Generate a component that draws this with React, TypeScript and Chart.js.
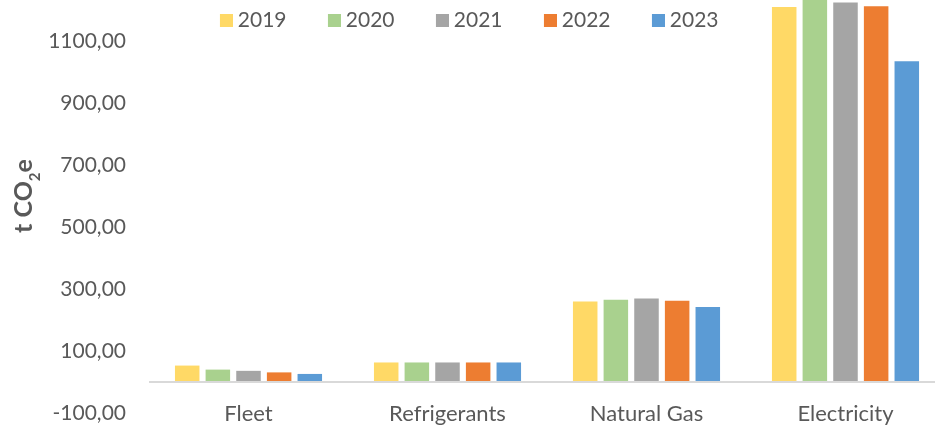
import React, { useEffect, useRef } from 'react';
import { Chart, registerables } from 'chart.js';

Chart.register(...registerables);

// ---- data ----
const categories = ['Fleet', 'Refrigerants', 'Natural Gas', 'Electricity'];
const seriesLabels = ['2019', '2020', '2021', '2022', '2023'];
const values2019 = [53, 63, 260, 1210];
const values2020 = [40, 63, 265, 1250];
const values2021 = [36, 63, 269, 1224];
const values2022 = [31, 63, 262, 1212];
const values2023 = [26, 63, 242, 1035];
const seriesValues = [values2019, values2020, values2021, values2022, values2023];
const yTickValues = [-100, 0, 100, 300, 500, 700, 900, 1100];
const yMin = -100;
const yMax = 1100;
const yTitleMain = 't CO';
const yTitleSub = '2';
const yTitleEnd = 'e';

// ---- style ----
const seriesColors = ['#FFD966', '#A9D18E', '#A5A5A5', '#ED7D31', '#5B9BD5'];
const FONT = 'Lato';
const TEXT = '#595959';
const FONT_SIZE = 21;
const CAT_FONT_SIZE = 22;
const PAGE_W = 935;
const PAGE_H = 426;
const PLOT_LEFT = 149;
const PLOT_RIGHT = 945;
const LEGEND_FIRST_TEXT = 238;
const LEGEND_PITCH = 108;
const LEGEND_PAD = 10;
const SWATCH = 13;
const SWATCH_GAP = 5;
const TITLE_X = 23;
const TITLE_CENTER_VALUE = 600;
const TITLE_SIZE = 25;
const SUB_SIZE = 15;
const SUB_DROP = 8;

const fmt = (v: number) => v.toFixed(2).replace('.', ',');

export default function App() {
  const ref = useRef<HTMLCanvasElement>(null);

  useEffect(() => {
    const canvas = ref.current as HTMLCanvasElement;
    const mctx = canvas.getContext('2d') as CanvasRenderingContext2D;
    mctx.font = `${FONT_SIZE}px ${FONT}`;
    const textW =
      seriesLabels.reduce((a, s) => a + mctx.measureText(s).width, 0) / seriesLabels.length;
    const half = FONT_SIZE / 2;
    const BW = LEGEND_PITCH - LEGEND_PAD - half - textW;
    const L = seriesLabels.length * LEGEND_PITCH;
    const Wc = Math.round(2 * (PLOT_RIGHT + (LEGEND_PAD - L) / 2 + BW + half - LEGEND_FIRST_TEXT));
    const o = PLOT_RIGHT - Wc;
    canvas.width = Wc;
    canvas.height = PAGE_H;
    canvas.style.left = o + 'px';
    canvas.style.width = Wc + 'px';
    canvas.style.height = PAGE_H + 'px';

    const imgW = Math.round(BW + 2 * (half - SWATCH_GAP));
    const swatches = seriesColors.map((c) => {
      const s = document.createElement('canvas');
      s.width = imgW;
      s.height = SWATCH;
      const sc = s.getContext('2d') as CanvasRenderingContext2D;
      sc.fillStyle = c;
      sc.fillRect(imgW - SWATCH, 0, SWATCH, SWATCH);
      return s;
    });

    const titlePlugin = {
      id: 'yTitleSub',
      afterDraw(chart: any) {
        const ctx = chart.ctx as CanvasRenderingContext2D;
        const ys = chart.scales.y;
        const cy = ys.getPixelForValue(TITLE_CENTER_VALUE);
        ctx.save();
        ctx.translate(TITLE_X - o, cy);
        ctx.rotate(-Math.PI / 2);
        ctx.fillStyle = TEXT;
        ctx.textBaseline = 'alphabetic';
        ctx.textAlign = 'left';
        const mainFont = `bold ${TITLE_SIZE}px ${FONT}`;
        const subFont = `bold ${SUB_SIZE}px ${FONT}`;
        ctx.font = mainFont;
        const w1 = ctx.measureText(yTitleMain).width;
        const w3 = ctx.measureText(yTitleEnd).width;
        ctx.font = subFont;
        const w2 = ctx.measureText(yTitleSub).width;
        let x = -(w1 + w2 + w3) / 2;
        const base = TITLE_SIZE * 0.36;
        ctx.font = mainFont;
        ctx.fillText(yTitleMain, x, base);
        x += w1;
        ctx.font = subFont;
        ctx.fillText(yTitleSub, x, base + SUB_DROP);
        x += w2;
        ctx.font = mainFont;
        ctx.fillText(yTitleEnd, x, base);
        ctx.restore();
      },
    };

    Chart.defaults.font.family = FONT;

    const chart = new Chart(canvas, {
      type: 'bar',
      data: {
        labels: categories,
        datasets: seriesLabels.map((label, i) => ({
          label,
          data: seriesValues[i],
          backgroundColor: seriesColors[i],
          borderWidth: 0,
          categoryPercentage: 0.77,
          barPercentage: 0.8,
          clip: false as any,
        })),
      },
      options: {
        responsive: false,
        animation: false,
        layout: { padding: 0 },
        plugins: {
          tooltip: { enabled: false },
          legend: {
            position: 'top',
            align: 'center',
            labels: {
              usePointStyle: true,
              pointStyleWidth: BW,
              boxHeight: SWATCH,
              padding: LEGEND_PAD,
              color: TEXT,
              font: { family: FONT, size: FONT_SIZE },
              generateLabels: (ch: any) =>
                ch.data.datasets.map((ds: any, i: number) => ({
                  text: ds.label,
                  fillStyle: seriesColors[i],
                  strokeStyle: seriesColors[i],
                  lineWidth: 0,
                  hidden: !ch.isDatasetVisible(i),
                  datasetIndex: i,
                  pointStyle: swatches[i],
                  fontColor: TEXT,
                })),
            },
          },
        },
        scales: {
          x: {
            grid: { display: false },
            border: { display: false },
            ticks: {
              color: TEXT,
              font: { family: FONT, size: CAT_FONT_SIZE },
              mirror: true,
              padding: -14,
            },
            afterFit: (s: any) => {
              s.height = 13;
            },
          },
          y: {
            min: yMin,
            max: yMax,
            afterBuildTicks: (s: any) => {
              s.ticks = yTickValues.map((value) => ({ value }));
            },
            afterFit: (s: any) => {
              s.width = PLOT_LEFT - o;
              s.paddingTop = 12;
              s.paddingBottom = 12;
            },
            border: { display: false },
            grid: {
              drawTicks: false,
              z: 1,
              lineWidth: 2,
              color: (c: any) => (c.tick && c.tick.value === 0 ? '#D9D9D9' : 'rgba(0,0,0,0)'),
            },
            ticks: {
              color: TEXT,
              font: { family: FONT, size: FONT_SIZE },
              padding: 23,
              callback: (v: any) => (Number(v) === 0 ? '' : fmt(Number(v))),
            },
          },
        },
      },
      plugins: [titlePlugin],
    } as any);

    return () => chart.destroy();
  }, []);

  return (
    <div
      style={{
        position: 'fixed',
        left: 0,
        top: 0,
        width: PAGE_W,
        height: PAGE_H,
        overflow: 'hidden',
        background: '#ffffff',
      }}
    >
      <canvas ref={ref} style={{ position: 'absolute', top: 0 }} />
    </div>
  );
}
